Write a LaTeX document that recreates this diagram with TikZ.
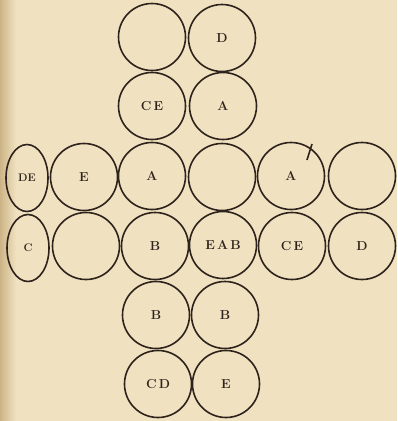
\documentclass[tikz,border=0pt]{standalone}
\usetikzlibrary{shapes.geometric}
\definecolor{paper}{RGB}{240,226,192}
\definecolor{shade}{RGB}{205,180,135}
\definecolor{ink}{RGB}{45,35,28}
\begin{document}
\begin{tikzpicture}[x=1pt,y=-1pt,
  cell/.style={circle,draw=ink,line width=1.6pt,minimum size=67pt,inner sep=0pt,
    font=\fontsize{13}{13}\selectfont\bfseries,text=ink},
  oval/.style={ellipse,draw=ink,line width=1.6pt,minimum width=42pt,minimum height=67pt,inner sep=0pt,
    font=\fontsize{11}{11}\selectfont\bfseries,text=ink}]
\fill[paper] (0,0) rectangle (397,421);
\shade[left color=shade,right color=paper] (0,0) rectangle (16,421);
\useasboundingbox (0,0) rectangle (397,421);
% row 1
\node[cell] (r1a) at (152,37) {};
\node[cell] (r1b) at (222,38) {D};
% row 2
\node[cell] (r2a) at (152,106) {C\,E};
\node[cell] (r2b) at (223,106) {A};
% row 3
\node[oval] (r3a) at (27,178) {DE};
\node[cell] (r3b) at (84,177) {E};
\node[cell] (r3c) at (152,176) {A};
\node[cell] (r3d) at (222,177) {};
\node[cell] (r3e) at (291,176) {A};
\node[cell] (r3f) at (362,176) {};
\draw[ink,line width=1.6pt] (312,144) -- (307,160);
% row 4
\node[oval] (r4a) at (28,248) {C};
\node[cell] (r4b) at (86,246) {};
\node[cell] (r4c) at (155,246) {B};
\node[cell] (r4d) at (223,245) {E\,A\,B};
\node[cell] (r4e) at (292,246) {C\,E};
\node[cell] (r4f) at (362,246) {D};
% row 5
\node[cell] (r5a) at (156,315) {B};
\node[cell] (r5b) at (225,315) {B};
% row 6
\node[cell] (r6a) at (158,384) {C\,D};
\node[cell] (r6b) at (226,384) {E};
\end{tikzpicture}
\end{document}
